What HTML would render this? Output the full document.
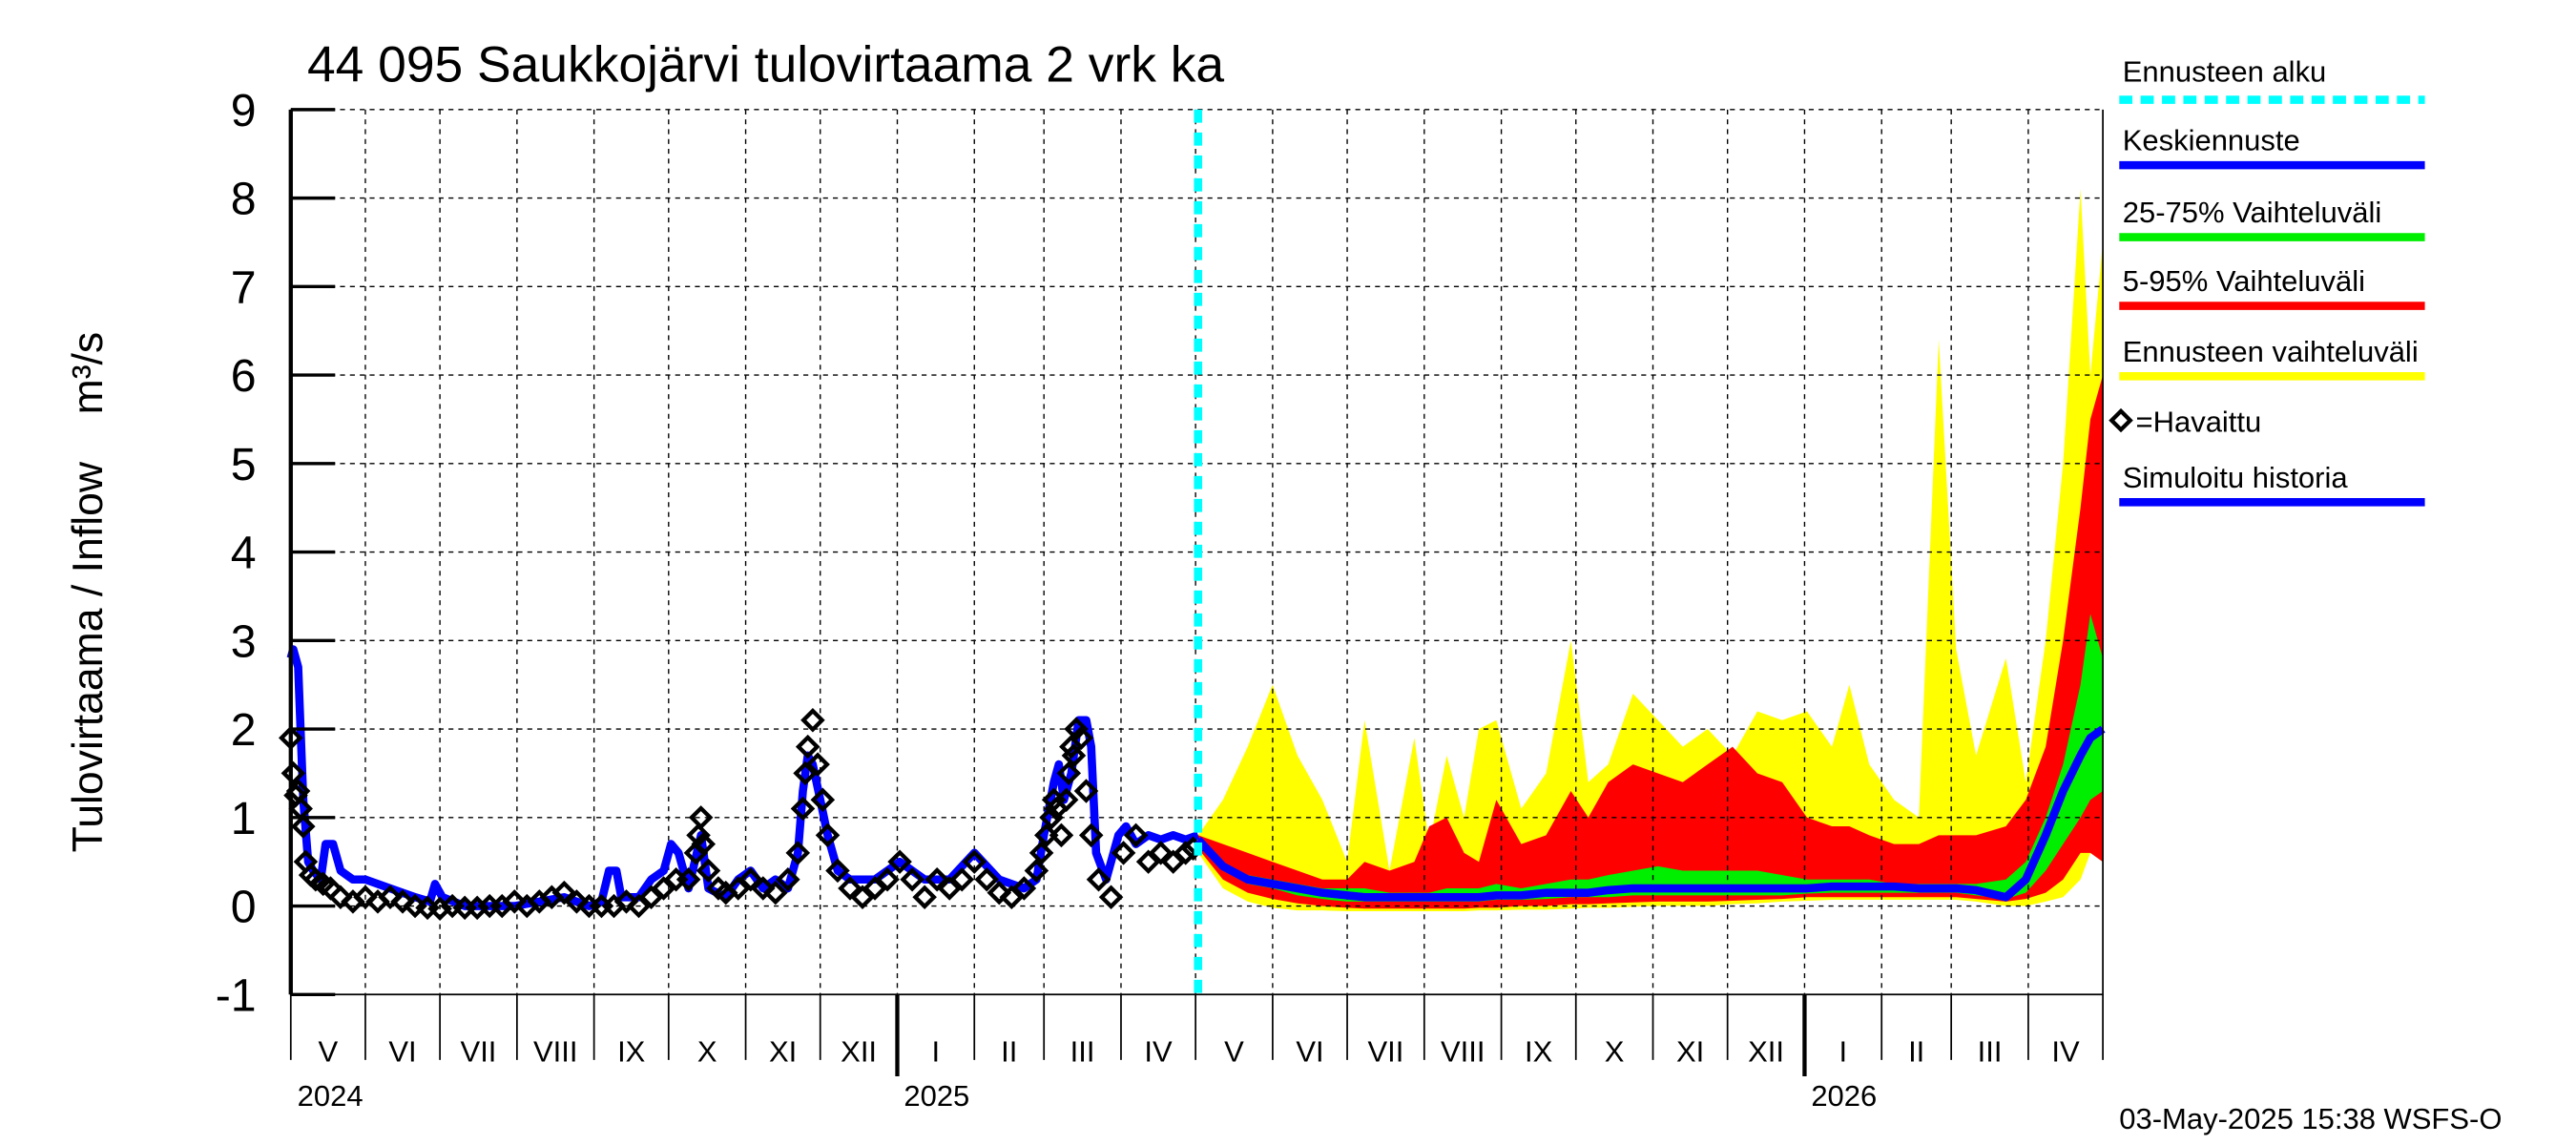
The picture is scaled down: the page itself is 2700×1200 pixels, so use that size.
<!DOCTYPE html>
<html><head><meta charset="utf-8"><style>html,body{margin:0;padding:0;background:#fff}svg{display:block}</style></head>
<body>
<svg id="chart" width="2700" height="1200" viewBox="0 0 1568 700" preserveAspectRatio="none" xmlns="http://www.w3.org/2000/svg" font-family="Liberation Sans, sans-serif">
<rect width="1568" height="700" fill="#fff"/>
<g id="bands"></g>
<g id="grid"></g>
<g id="series"></g>
<g id="axes"></g>
<text x="187" y="50" font-size="31">44 095 Saukkojärvi tulovirtaama 2 vrk ka</text>
<text transform="translate(62,362) rotate(-90)" text-anchor="middle" font-size="26" xml:space="preserve">Tulovirtaama / Inflow    m³/s</text>
<g id="legend">
<text x="1292" y="50" font-size="18">Ennusteen alku</text>
<line x1="1290" y1="61" x2="1476" y2="61" stroke="#00ffff" stroke-width="5" stroke-dasharray="8,5"/>
<text x="1292" y="92" font-size="18">Keskiennuste</text>
<line x1="1290" y1="101" x2="1476" y2="101" stroke="#0000ff" stroke-width="5"/>
<text x="1292" y="136" font-size="18">25-75% Vaihteluväli</text>
<line x1="1290" y1="145" x2="1476" y2="145" stroke="#00ee00" stroke-width="5"/>
<text x="1292" y="178" font-size="18">5-95% Vaihteluväli</text>
<line x1="1290" y1="187" x2="1476" y2="187" stroke="#ff0000" stroke-width="5"/>
<text x="1292" y="221" font-size="18">Ennusteen vaihteluväli</text>
<line x1="1290" y1="230" x2="1476" y2="230" stroke="#ffff00" stroke-width="5"/>
<rect x="1287" y="253" width="8" height="8" transform="rotate(45 1291 257)" fill="none" stroke="#000" stroke-width="2.5"/>
<text x="1300" y="264" font-size="18">=Havaittu</text>
<text x="1292" y="298" font-size="18">Simuloitu historia</text>
<line x1="1290" y1="307" x2="1476" y2="307" stroke="#0000ff" stroke-width="5"/>
</g>
<text x="1290" y="690" font-size="18">03-May-2025 15:38 WSFS-O</text>
</svg>
<script>
const fDays=[365,375,385,395,405,415,425,432,442,452,458,465,472,478,485,495,505,515,522,530,540,550,560,570,580,590,600,610,620,627,635,645,655,663,670,678,690,698,706,713,720,724,729];
const yMax=[0.8,1.2,1.8,2.5,1.7,1.2,0.5,2.1,0.4,1.9,0.7,1.7,1.0,2.0,2.1,1.1,1.5,3.0,1.4,1.6,2.4,2.1,1.8,2.0,1.7,2.2,2.1,2.2,1.8,2.5,1.6,1.2,1.0,6.4,2.9,1.7,2.8,1.4,3.0,5.0,8.1,6.0,7.5];
const rHi=[0.8,0.7,0.6,0.5,0.4,0.3,0.3,0.5,0.4,0.5,0.9,1.0,0.6,0.5,1.2,0.7,0.8,1.3,1.0,1.4,1.6,1.5,1.4,1.6,1.8,1.5,1.4,1.0,0.9,0.9,0.8,0.7,0.7,0.8,0.8,0.8,0.9,1.2,1.8,3.0,4.5,5.5,6.0];
const gHi=[0.75,0.5,0.35,0.3,0.25,0.2,0.2,0.2,0.15,0.15,0.15,0.2,0.2,0.2,0.25,0.2,0.25,0.3,0.3,0.35,0.4,0.45,0.4,0.4,0.4,0.4,0.35,0.3,0.3,0.3,0.3,0.25,0.25,0.25,0.25,0.25,0.3,0.5,1.0,1.6,2.5,3.3,2.8];
const med=[0.75,0.45,0.3,0.25,0.2,0.15,0.12,0.1,0.1,0.1,0.1,0.1,0.1,0.1,0.12,0.12,0.15,0.15,0.15,0.18,0.2,0.2,0.2,0.2,0.2,0.2,0.2,0.2,0.22,0.22,0.22,0.22,0.2,0.2,0.2,0.18,0.1,0.3,0.8,1.3,1.7,1.9,2.0];
const gLo=[0.7,0.4,0.25,0.2,0.12,0.08,0.05,0.05,0.05,0.05,0.05,0.05,0.05,0.05,0.07,0.07,0.08,0.1,0.1,0.1,0.12,0.12,0.12,0.12,0.12,0.12,0.12,0.14,0.15,0.15,0.15,0.15,0.15,0.15,0.15,0.12,0.08,0.15,0.4,0.7,1.0,1.2,1.3];
const rLo=[0.65,0.3,0.15,0.08,0.03,0.0,-0.02,-0.03,-0.03,-0.03,-0.03,-0.03,-0.03,-0.02,-0.02,0.0,0.0,0.02,0.02,0.03,0.04,0.05,0.05,0.05,0.06,0.07,0.08,0.1,0.1,0.1,0.1,0.1,0.1,0.1,0.1,0.08,0.05,0.08,0.15,0.3,0.6,0.6,0.5];
const yLo=[0.6,0.2,0.05,-0.02,-0.05,-0.05,-0.06,-0.06,-0.06,-0.06,-0.06,-0.06,-0.06,-0.05,-0.05,-0.04,-0.04,-0.03,-0.02,-0.02,-0.01,0,0,0,0.02,0.03,0.05,0.06,0.07,0.07,0.07,0.07,0.07,0.07,0.07,0.05,0,0,0.05,0.1,0.3,0.6,0.5];
const simDays=[0,1,3,5,7,9,12,14,17,20,25,30,40,50,56,58,61,70,90,110,120,125,128,131,133,140,145,150,153,156,160,165,168,175,180,185,190,195,200,204,206,208,210,213,216,220,225,235,245,255,265,275,285,295,300,303,307,309,311,314,317,320,322,324,328,333,336,340,345,350,355,360,365];
const simVals=[2.8,2.9,2.7,1.2,0.5,0.4,0.3,0.7,0.7,0.4,0.3,0.3,0.2,0.1,0.05,0.25,0.1,0.0,0.0,0.1,0.0,0.05,0.4,0.4,0.1,0.1,0.3,0.4,0.7,0.6,0.2,0.8,0.2,0.1,0.3,0.4,0.2,0.3,0.2,0.6,1.3,1.7,1.6,1.2,0.8,0.4,0.3,0.3,0.5,0.3,0.3,0.6,0.3,0.2,0.3,0.8,1.4,1.6,1.2,1.5,2.1,2.1,1.8,0.6,0.3,0.8,0.9,0.7,0.8,0.75,0.8,0.75,0.8];
const obsDays=[0,1,2,3,4,5,6,8,10,13,16,20,25,30,35,40,45,50,55,60,65,70,75,80,85,90,95,100,105,110,115,120,125,130,135,140,145,150,155,160,163,164,165,166,168,172,175,180,185,190,195,200,204,206,207,208,210,212,214,216,220,225,230,235,240,245,250,255,260,265,270,275,280,285,290,295,300,302,304,306,307,308,310,312,313,314,315,316,318,320,322,325,330,335,340,345,350,355,360,363];
const obsVals=[1.9,1.5,1.25,1.3,1.1,0.9,0.5,0.35,0.3,0.25,0.2,0.1,0.05,0.1,0.05,0.1,0.05,0.0,-0.02,-0.03,0.0,-0.02,-0.02,0.0,0.0,0.05,0.0,0.05,0.1,0.15,0.05,0.0,0.0,0.0,0.05,0.0,0.1,0.2,0.3,0.3,0.6,0.8,1.0,0.7,0.4,0.2,0.15,0.2,0.3,0.2,0.15,0.3,0.6,1.1,1.5,1.8,2.1,1.6,1.2,0.8,0.4,0.2,0.1,0.2,0.3,0.5,0.3,0.1,0.3,0.2,0.3,0.5,0.3,0.15,0.1,0.2,0.4,0.6,0.8,1.0,1.2,1.1,0.8,1.2,1.5,1.8,1.7,2.0,1.9,1.3,0.8,0.3,0.1,0.6,0.8,0.5,0.6,0.5,0.6,0.65];
const yTicks=[-1,0,1,2,3,4,5,6,7,8,9];
const monthStarts=[0,30,60,91,122,152,183,213,244,275,303,334,364,395,425,456,487,517,548,578,609,640,668,699,729];
const monthLabels=["V","VI","VII","VIII","IX","X","XI","XII","I","II","III","IV","V","VI","VII","VIII","IX","X","XI","XII","I","II","III","IV"];
const yearDays=[244,609];
const yearLabels=["2024","2025","2026"];
const forecastStart=365;

const X0=177,X1=1280,YT=67,YB=608;
const xs=d=>X0+(X1-X0)*d/729;
const ys=v=>YB-(YB-YT)*(v+1)/10;
const NS='http://www.w3.org/2000/svg';
function mk(parent,tag,attrs){const e=document.createElementNS(NS,tag);for(const k in attrs)e.setAttribute(k,attrs[k]);document.getElementById(parent).appendChild(e);return e;}
function band(hi,lo,color,name){
  let d='M'+fDays.map((t,i)=>xs(t).toFixed(1)+','+ys(hi[i]).toFixed(1)).join('L');
  for(let i=fDays.length-1;i>=0;i--)d+='L'+xs(fDays[i]).toFixed(1)+','+ys(lo[i]).toFixed(1);
  const p=mk('bands','path',{d:d+'Z',fill:color});
  
  
}
band(yMax,yLo,'#ffff00','band-full-range');
band(rHi,rLo,'#ff0000','band-5-95');
band(gHi,gLo,'#00ee00','band-25-75');
yTicks.forEach(v=>{if(v===-1)return;const l=mk('grid','line',{x1:X0,x2:X1,y1:ys(v),y2:ys(v),stroke:'#000','stroke-width':0.8,'stroke-dasharray':'3,3'});

});
monthStarts.forEach(d=>{if(d===0||d===729)return;const l=mk('grid','line',{x1:xs(d),x2:xs(d),y1:YT,y2:YB,stroke:'#000','stroke-width':0.8,'stroke-dasharray':'3,3'});

});
const sim=mk('series','polyline',{points:simDays.map((t,i)=>xs(t).toFixed(1)+','+ys(simVals[i]).toFixed(1)).join(' '),fill:'none',stroke:'#0000ff','stroke-width':5,'stroke-linejoin':'round'});


obsDays.forEach((t,i)=>{const cx=xs(t),cy=ys(obsVals[i]);const r=mk('series','rect',{x:cx-4,y:cy-4,width:8,height:8,transform:`rotate(45 ${cx} ${cy})`,fill:'none',stroke:'#000','stroke-width':2.5});

});
const m=mk('series','polyline',{points:fDays.map((t,i)=>xs(t).toFixed(1)+','+ys(med[i]).toFixed(1)).join(' '),fill:'none',stroke:'#0000ff','stroke-width':5,'stroke-linejoin':'round'});


const fl=mk('series','line',{x1:xs(forecastStart),x2:xs(forecastStart),y1:YT,y2:YB,stroke:'#00ffff','stroke-width':5,'stroke-dasharray':'8,6'});


const ax=mk('axes','path',{d:`M${X0},${YT}V${YB}H${X1}V${YT}`,fill:'none',stroke:'#000','stroke-width':1});


const la=mk('axes','line',{x1:X0,x2:X0,y1:YT,y2:YB,stroke:'#000','stroke-width':2.5});


yTicks.forEach(v=>{const t=mk('axes','line',{x1:X0,x2:X0+27,y1:ys(v),y2:ys(v),stroke:'#000','stroke-width':2});


const tx=mk('axes','text',{x:156,y:ys(v)+10,'text-anchor':'end','font-size':28});tx.textContent=String(v);

});
monthStarts.forEach(d=>{const t=mk('axes','line',{x1:xs(d),x2:xs(d),y1:YB,y2:YB+40,stroke:'#000','stroke-width':1});

});
monthLabels.forEach((lb,i)=>{const tx=mk('axes','text',{x:(xs(monthStarts[i])+xs(monthStarts[i+1]))/2,y:649,'text-anchor':'middle','font-size':18});tx.textContent=lb;

});
yearDays.forEach(d=>{const t=mk('axes','line',{x1:xs(d),x2:xs(d),y1:YB,y2:YB+50,stroke:'#000','stroke-width':2.5});

});
[0].concat(yearDays).forEach((d,i)=>{const tx=mk('axes','text',{x:xs(d)+4,y:676,'font-size':18});tx.textContent=yearLabels[i];

});
</script>
</body></html>
